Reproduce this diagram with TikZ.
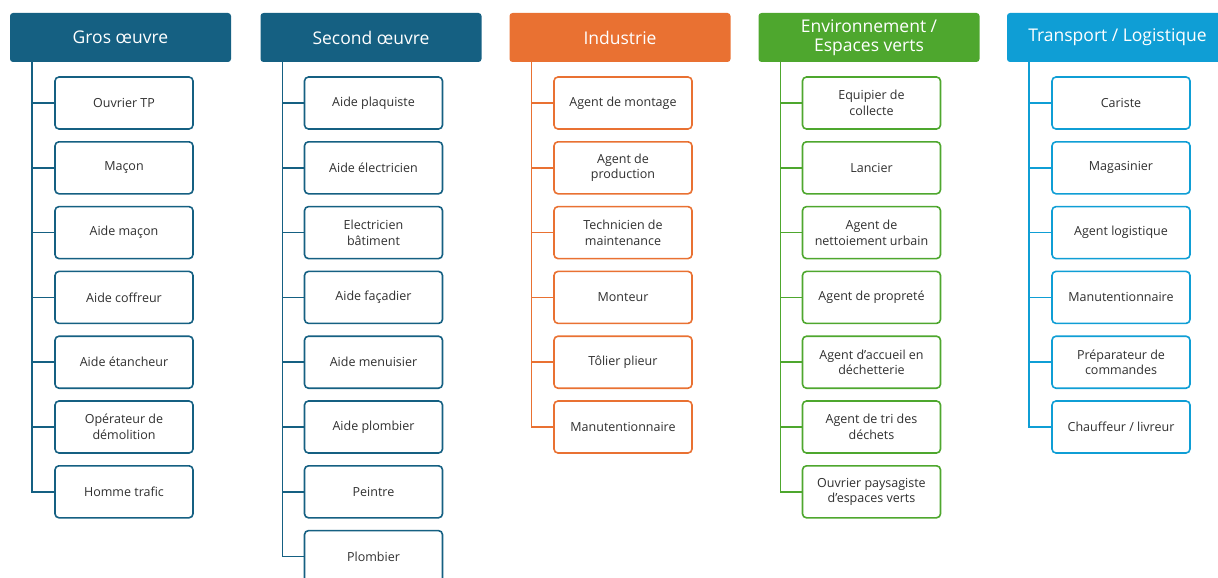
\documentclass[tikz,border=0pt]{standalone}
\usepackage{fontspec}
\setmainfont{Open Sans}
\usetikzlibrary{positioning}

\definecolor{bleugo}{HTML}{156082}
\definecolor{orangeind}{HTML}{E97132}
\definecolor{vertenv}{HTML}{4EA72E}
\definecolor{bleutr}{HTML}{0F9ED5}
\definecolor{textegris}{HTML}{303030}

\tikzset{
  entete/.style={fill=#1, draw=none, rounded corners=3pt, minimum width=221pt, minimum height=49pt,
    inner sep=0pt, align=center, text=white, font=\fontsize{17.5}{18.5}\selectfont},
  metier/.style={draw=#1, fill=white, line width=1.6pt, rounded corners=4pt, minimum width=138pt,
    minimum height=52pt, inner sep=0pt, align=center, text=textegris, font=\fontsize{12.5}{15.5}\selectfont},
  lien/.style={draw=#1, line width=1.6pt}
}

\begin{document}
\begin{tikzpicture}[x=1pt,y=-1pt]
	\useasboundingbox (0,0) rectangle (1218,578);
	\clip (0,0) rectangle (1218,578);
	% Gros oeuvre
	\node[entete=bleugo] (gros) at (120.5,37.5) {Gros œuvre};
	\coordinate (go0) at ([xshift=22pt]gros.south west);
	\foreach \txt [count=\i] in {Ouvrier TP, Maçon, Aide maçon, Aide coffreur, Aide étancheur,
		{Opérateur de\\démolition}, Homme trafic}{
		\node[metier=bleugo] (go\i) at (124,{103+64.8*(\i-1)}) {\txt};
		\draw[lien=bleugo] (go0) |- (go\i.west);
	}
	% Second oeuvre
	\node[entete=bleugo] (second) at (371,37.5) {Second œuvre};
	\coordinate (so0) at ([xshift=22pt]second.south west);
	\foreach \txt [count=\i] in {Aide plaquiste, Aide électricien, {Electricien\\bâtiment}, Aide façadier,
		Aide menuisier, Aide plombier, Peintre, Plombier}{
		\node[metier=bleugo] (so\i) at (373.5,{103+64.8*(\i-1)}) {\txt};
		\draw[lien=bleugo] (so0) |- (so\i.west);
	}
	% Industrie
	\node[entete=orangeind] (indus) at (620,37.5) {Industrie};
	\coordinate (in0) at ([xshift=22pt]indus.south west);
	\foreach \txt [count=\i] in {Agent de montage, {Agent de\\production}, {Technicien de\\maintenance},
		Monteur, Tôlier plieur, Manutentionnaire}{
		\node[metier=orangeind] (in\i) at (623,{103+64.8*(\i-1)}) {\txt};
		\draw[lien=orangeind] (in0) |- (in\i.west);
	}
	% Environnement
	\node[entete=vertenv] (envir) at (869,37.5) {Environnement /\\Espaces verts};
	\coordinate (en0) at ([xshift=22pt]envir.south west);
	\foreach \txt [count=\i] in {{Equipier de\\collecte}, Lancier, {Agent de\\nettoiement urbain},
		Agent de propreté, {Agent d’accueil en\\déchetterie}, {Agent de tri des\\déchets},
		{Ouvrier paysagiste\\d'espaces verts}}{
		\node[metier=vertenv] (en\i) at (871.5,{103+64.8*(\i-1)}) {\txt};
		\draw[lien=vertenv] (en0) |- (en\i.west);
	}
	% Transport
	\node[entete=bleutr] (transp) at (1117.5,37.5) {Transport / Logistique};
	\coordinate (tr0) at ([xshift=22pt]transp.south west);
	\foreach \txt [count=\i] in {Cariste, Magasinier, Agent logistique, Manutentionnaire,
		{Préparateur de\\commandes}, Chauffeur / livreur}{
		\node[metier=bleutr] (tr\i) at (1121,{103+64.8*(\i-1)}) {\txt};
		\draw[lien=bleutr] (tr0) |- (tr\i.west);
	}
\end{tikzpicture}
\end{document}
